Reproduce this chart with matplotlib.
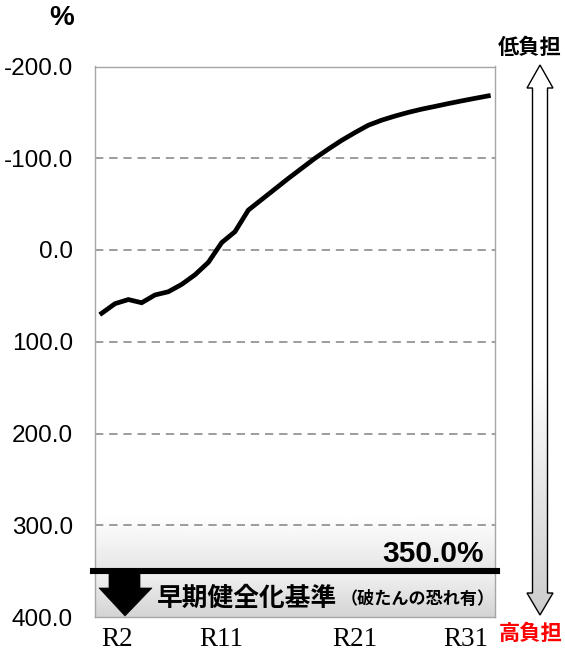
import numpy as np
import matplotlib
matplotlib.use("Agg")
import matplotlib.pyplot as plt
from matplotlib.patches import Polygon

# ---- data ----
years = [f"R{i}" for i in range(2, 32)]
values = [69.0, 58.5, 54.0, 57.5, 49.0, 45.5, 37.5, 27.0, 13.5, -8.0,
          -20.0, -43.5, -55.0, -66.5, -78.0, -89.0, -100.0, -110.0, -119.5, -128.0,
          -136.0, -141.5, -146.0, -150.0, -153.5, -156.5, -159.6, -162.5, -165.3, -168.0]
tick_labels = ["R2", "R11", "R21", "R31"]
yticks = [-200, -100, 0, 100, 200, 300, 400]
threshold = 350.0
threshold_label = "350.0%"

W, H = 565, 657
fig = plt.figure(figsize=(W / 100, H / 100), dpi=100)
jp = ["Noto Sans CJK JP", "DejaVu Sans"]

ax = fig.add_axes([95 / W, 1 - 617 / H, 400 / W, (617 - 66.5) / H])
x = np.arange(len(years))
ax.set_xlim(-0.5, len(years) - 0.5)
ax.set_ylim(400, -200)

# gradient background zones
grad1 = np.linspace(0, 1, 100).reshape(-1, 1)
ax.imshow(1 - grad1 * 0.10, cmap="gray", vmin=0, vmax=1, aspect="auto",
          extent=(-0.5, len(years) - 0.5, threshold, 290), zorder=0.5)
ax.imshow(0.95 - grad1 * 0.12, cmap="gray", vmin=0, vmax=1, aspect="auto",
          extent=(-0.5, len(years) - 0.5, 400, threshold), zorder=0.5)

for yv in yticks[1:-1]:
    ax.axhline(yv, color="#8c8c8c", lw=1.2, ls=(0, (5, 3.5)), zorder=1)

ax.plot(x, values, color="black", lw=3.4, solid_joinstyle="miter", zorder=3)

ax.axhline(threshold, xmin=-0.006, xmax=1.005, color="black", lw=4.4,
           clip_on=False, zorder=4)

for s in ["left", "right", "top", "bottom"]:
    ax.spines[s].set_color("#a6a6a6")
    ax.spines[s].set_linewidth(1.0)

ax.set_yticks(yticks)
ax.set_yticklabels([f"{v:.1f}" for v in yticks], fontsize=17.5,
                   family="Liberation Sans")
ax.tick_params(axis="y", length=0, pad=16)

idx = [years.index(t) for t in tick_labels]
ax.set_xticks(idx)
ax.set_xticklabels(tick_labels, fontsize=19.5, family="Liberation Serif")
ax.tick_params(axis="x", length=0, pad=7)
labs = ax.get_xticklabels()
labs[0].set_ha("left")
labs[-1].set_ha("right")

# ---- decorations in pixel coordinates ----
ov = fig.add_axes([0, 0, 1, 1], zorder=5)
ov.set_xlim(0, W)
ov.set_ylim(H, 0)
ov.axis("off")
ov.patch.set_alpha(0)

# black down arrow
ov.add_patch(Polygon([(109, 571), (140, 571), (140, 588), (152, 588),
                      (125, 616), (99, 588), (109, 588)],
                     closed=True, facecolor="black", edgecolor="black", lw=0.5))

ov.text(157, 598, "早期健全化基準", fontsize=18.5, fontweight="bold",
        family=jp, va="center", ha="left")
ov.text(341, 599, "（破たんの恐れ有）", fontsize=12.3, fontweight="bold",
        family=jp, va="center", ha="left")
ov.text(484, 554, threshold_label, fontsize=21.5, fontweight="bold",
        family="Liberation Sans", va="center", ha="right")

# double arrow on the right with gradient fill
pts = [(540, 65), (553, 88), (547.5, 88), (547.5, 593), (553, 593),
       (540, 615), (527, 593), (532.5, 593), (532.5, 88), (527, 88)]
poly = Polygon(pts, closed=True, facecolor="none", edgecolor="black", lw=1.0,
               zorder=3)
ov.add_patch(poly)
g = np.linspace(0, 1, 200)
shade = np.where(g < 0.55, 1.0, 1.0 - (g - 0.55) / 0.45 * 0.2).reshape(-1, 1)
im = ov.imshow(shade, cmap="gray", vmin=0, vmax=1, aspect="auto",
               extent=(525, 555, 616, 64), zorder=2)
im.set_clip_path(poly)
ov.set_xlim(0, W)
ov.set_ylim(H, 0)

ov.text(498, 47, "低負担", fontsize=15.3, fontweight="bold", family=jp,
        va="center", ha="left", color="black")
ov.text(499, 633, "高負担", fontsize=15.3, fontweight="bold", family=jp,
        va="center", ha="left", color="#ff0000")
ov.text(62, 18, "%", fontsize=20, fontweight="bold", family="Liberation Sans",
        va="center", ha="center")

fig.savefig("out.png", dpi=100)
